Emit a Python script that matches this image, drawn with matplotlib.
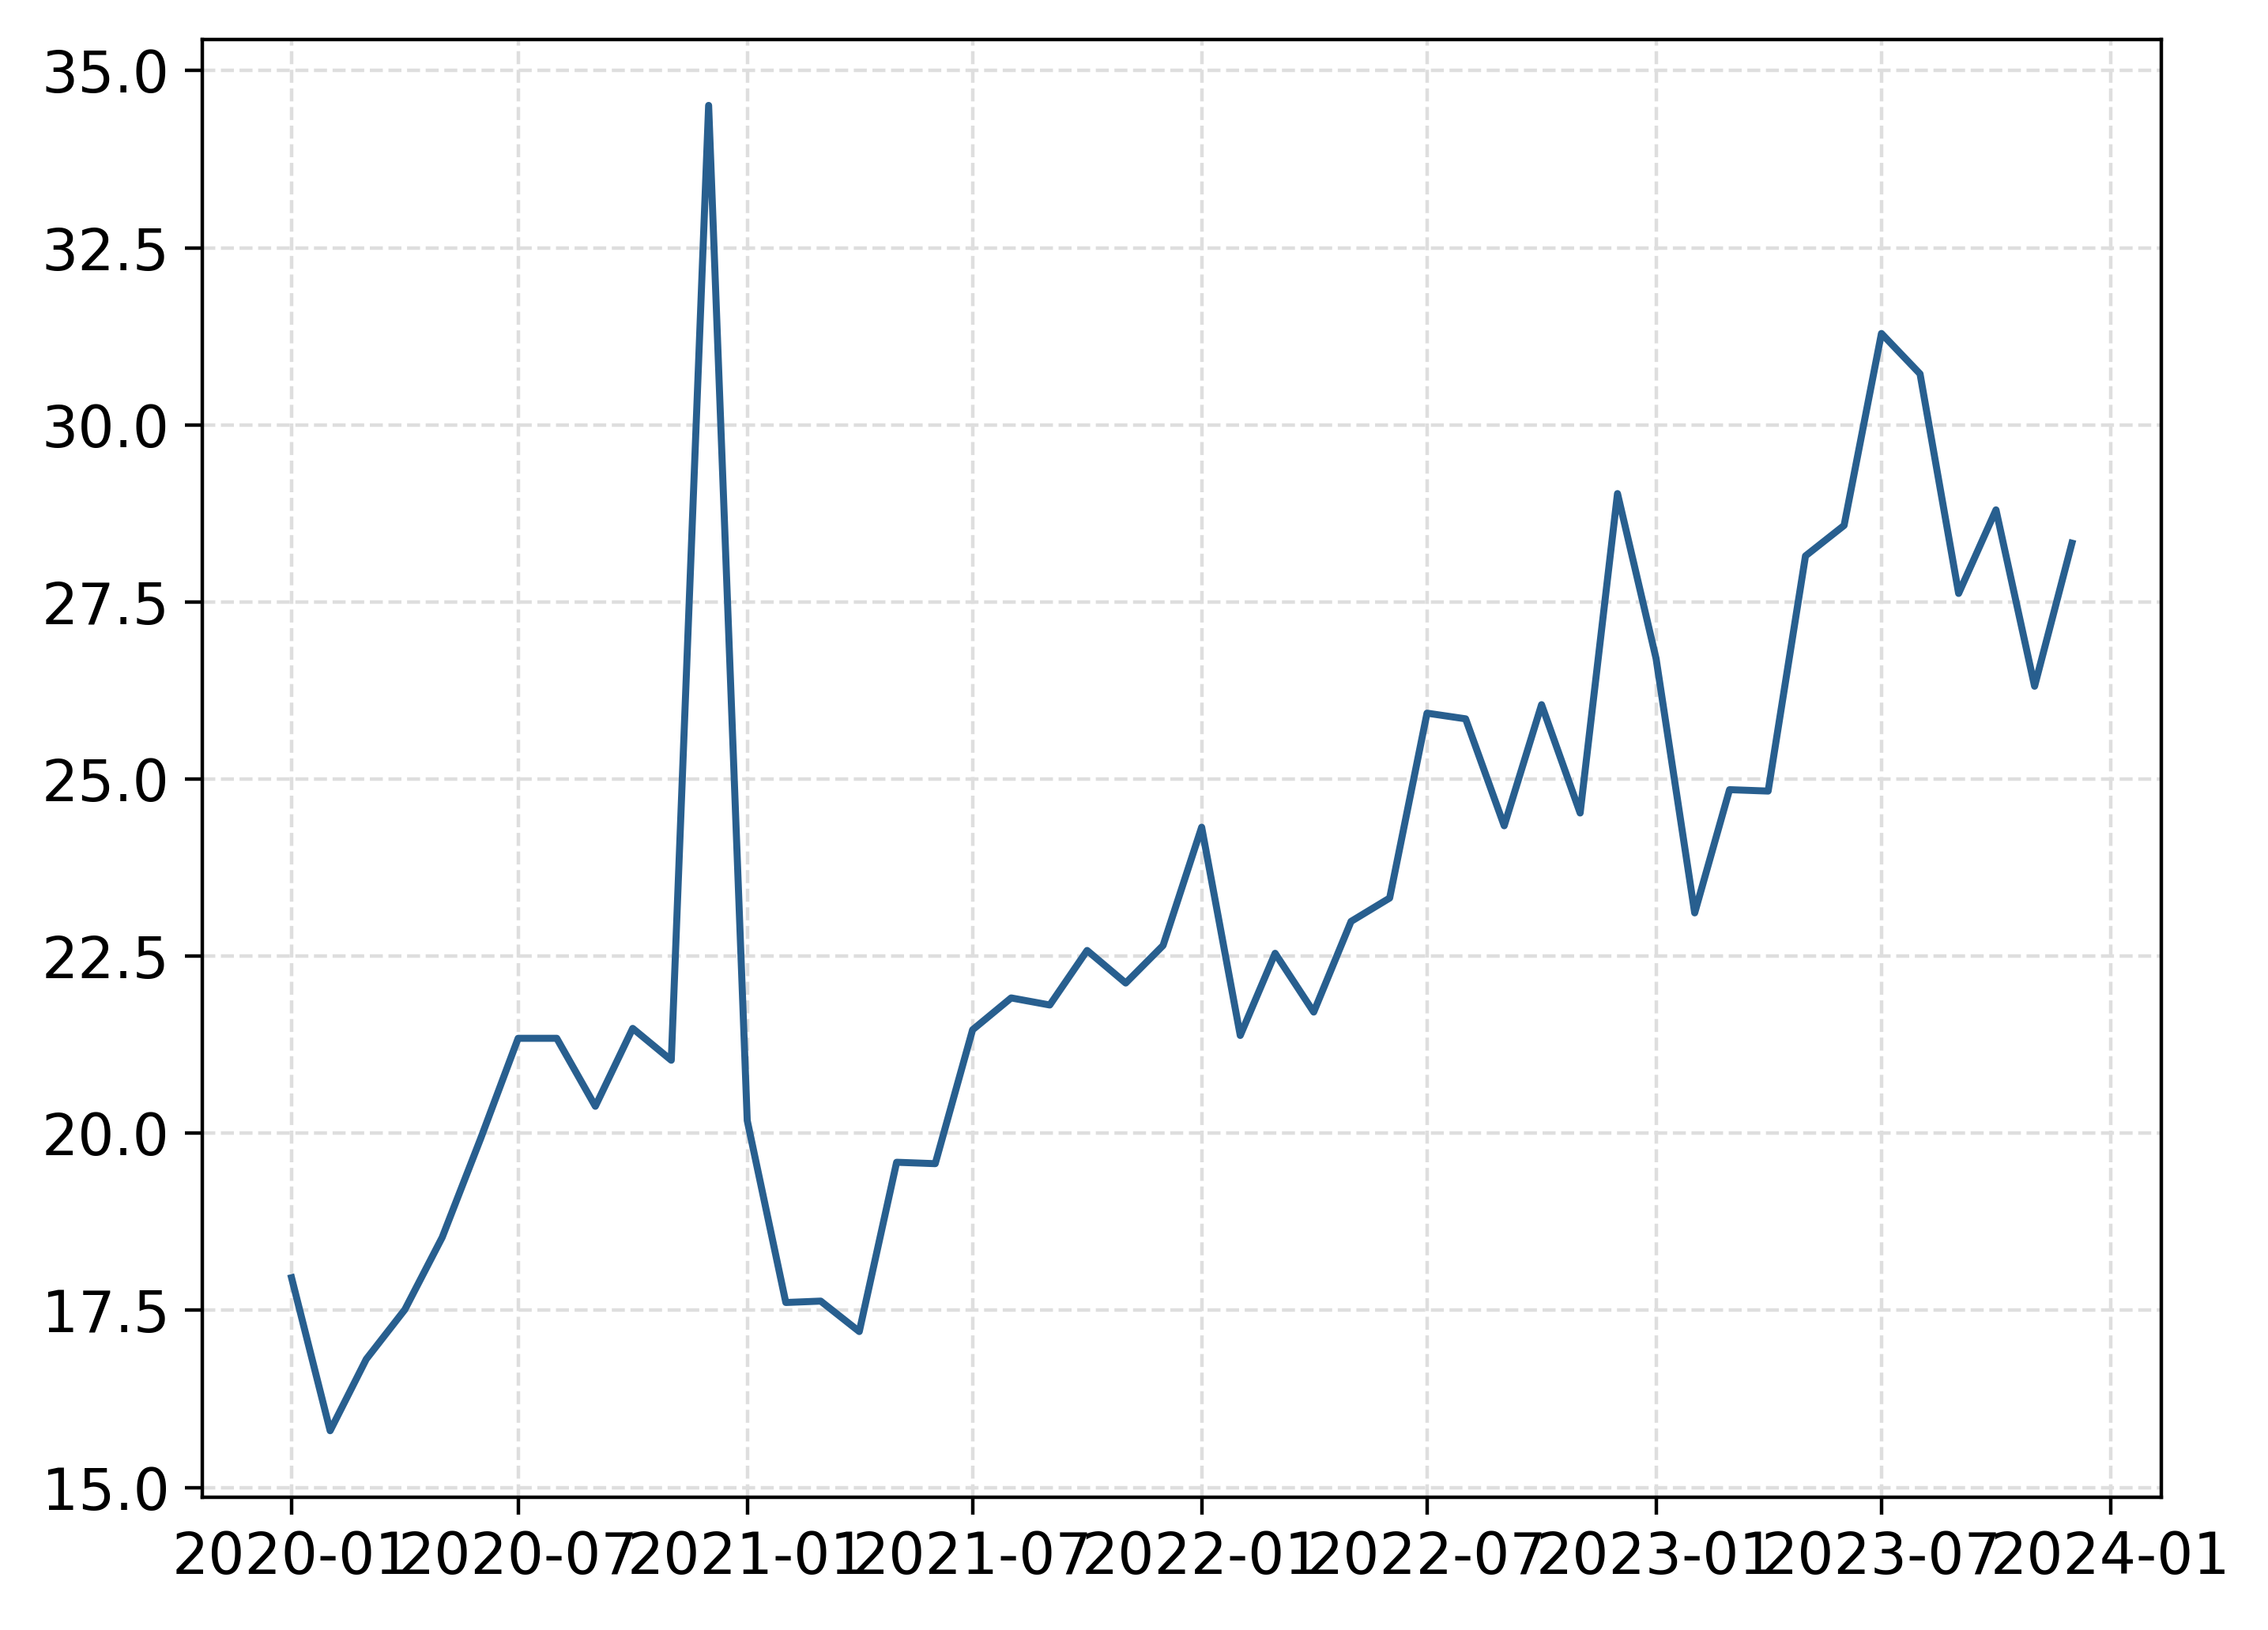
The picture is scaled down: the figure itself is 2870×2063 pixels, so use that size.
import matplotlib
matplotlib.use("Agg")
import matplotlib.pyplot as plt
import matplotlib.dates as mdates
import numpy as np
import pandas as pd

# monthly series, 2020-01 .. 2023-12
dates = pd.date_range("2020-01-01", periods=48, freq="MS")
values = [
    17.96, 15.80, 16.81, 17.51, 18.53, 19.93, 21.34, 21.34, 20.38, 21.48, 21.03, 34.51,
    20.18, 17.61, 17.63, 17.20, 19.59, 19.57, 21.46, 21.91, 21.81, 22.58, 22.12, 22.65,
    24.32, 21.38, 22.54, 21.71, 22.99, 23.32, 25.93, 25.85, 24.34, 26.05, 24.52, 29.03,
    26.70, 23.11, 24.85, 24.83, 28.15, 28.58, 31.29, 30.72, 27.62, 28.80, 26.31, 28.33,
]

LINE_COLOR = "#285f8f"

fig = plt.figure(figsize=(7.175, 5.1575), dpi=400)
ax = fig.add_axes([0.0893, 0.0816, 0.8635, 0.8944])

ax.plot(dates, values, color=LINE_COLOR, linewidth=1.6)

ax.xaxis.set_major_locator(mdates.MonthLocator(bymonth=[1, 7]))
ax.xaxis.set_major_formatter(mdates.DateFormatter("%Y-%m"))
ax.set_yticks(np.arange(15.0, 35.1, 2.5))
ax.yaxis.set_major_formatter(matplotlib.ticker.FormatStrFormatter("%.1f"))

ax.grid(True, linestyle="--", color="#dedede", linewidth=0.8)
ax.tick_params(labelsize=13.1, length=4)
for s in ax.spines.values():
    s.set_linewidth(0.8)

fig.savefig("out.png", dpi=400)
